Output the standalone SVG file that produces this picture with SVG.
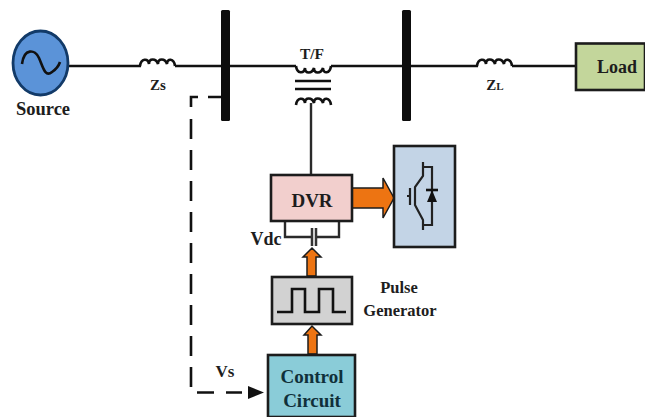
<svg xmlns="http://www.w3.org/2000/svg" width="645" height="417" viewBox="0 0 645 417">
<style>
.w{fill:none;stroke:#111;stroke-width:2.6}
.t{fill:none;stroke:#2a2a2a;stroke-width:2.4}
.b{stroke:#1c1c1c;stroke-width:2.6}
.o{fill:#ed7412;stroke:#1c1c1c;stroke-width:1.5}
text{font-family:"Liberation Serif",serif;font-weight:bold;fill:#1d1d1d;text-anchor:middle}
.c{fill:#10303a}
</style>
<defs>
<path id="coil" class="w" d="M0 0C1 -8 8 -8 9 -2C9 -8 16 -8 18 -2C18 -8 25 -8 27 -2C27 -8 34 -8 35 0"/>
</defs>
<g id="connectors">
<path class="w" d="M68 66H141M175 66H296M331 66H402M411 66H478M512 66H577"/>
<path class="t" d="M311 103V175"/>
<path class="w" d="M221 97H208M198 97H191V107M197 392.500H214M226 392.500H242"/>
<path fill="none" stroke="#111" stroke-width="2.6" stroke-dasharray="20 11" d="M191 119V388"/>
<path fill="#111" d="M248 386L264 392.500L248 399Z"/>
<path class="t" d="M285 221V237H312M317 237H339V221"/>
<path fill="none" stroke="#333" stroke-width="2.5" d="M312 228V246M316 228V246"/>
<path class="o" d="M352 188H383V178L394 198L383 218V208H352Z"/>
<path class="o" d="M307 276V257H303L312 248L321 257H316V276Z"/>
<path class="o" d="M308 354V335H304L312 326L321 335H317V354Z"/>
</g>
<g id="source">
<ellipse cx="40.500" cy="63" rx="27.500" ry="32" fill="#5b93d8" stroke="#123a68" stroke-width="2.800"/>
<path class="w" d="M22 64C24 48 35 49 39 58S45 78 52 72Q58 68 60 62"/>
<text x="43" y="115" font-size="18.500">Source</text>
</g>
<g id="zs">
<use href="#coil" x="140" y="66"/>
<text x="158" y="90" font-size="15">Zs</text>
</g>
<g id="bus1"><rect x="221" y="10" width="9" height="111" rx="1.500" fill="#0d0d0d"/></g>
<g id="tf">
<use href="#coil" x="296" y="66" transform="matrix(1 0 0 -1 0 132)"/>
<path class="w" d="M295 81H331M295 89H331"/>
<use href="#coil" x="296" y="105"/>
<text x="312" y="59" font-size="15.500">T/F</text>
</g>
<g id="bus2"><rect x="402" y="10" width="9" height="111" rx="1.500" fill="#0d0d0d"/></g>
<g id="zl">
<use href="#coil" x="477" y="66"/>
<text x="495" y="90" font-size="15">Z<tspan font-size="11">L</tspan></text>
</g>
<g id="load">
<rect x="576" y="43.500" width="69" height="46.500" fill="#c3d69b" class="b"/>
<text x="617" y="73" font-size="18">Load</text>
</g>
<g id="dvr">
<rect x="271" y="175" width="81" height="46" fill="#f2cfcd" class="b"/>
<text x="312" y="207" font-size="19">DVR</text>
<text x="266" y="245" font-size="18">Vdc</text>
</g>
<g id="igbt">
<rect x="394" y="146" width="61" height="101" fill="#c3d4e6" class="b"/>
<path fill="none" stroke="#222" stroke-width="2.200" d="M423 162V176L415 187V205L423 220V230M423 167H432V225H423M410 188V205M410 196H407"/>
<path fill="#111" d="M427 202H437L432 190Z"/>
<path class="w" d="M426 190H438"/>
</g>
<g id="pulse-generator">
<rect x="272" y="277" width="80" height="47" fill="#d2d2d2" class="b"/>
<path class="w" d="M277 312H292V289H305V312H319V289H333V312H346"/>
<text x="399" y="293" font-size="16.500">Pulse</text>
<text x="400" y="316" font-size="16.500">Generator</text>
</g>
<g id="control-circuit">
<rect x="268" y="355" width="87" height="62" fill="#8accd8" class="b"/>
<text class="c" x="312" y="383" font-size="19">Control</text>
<text class="c" x="312" y="407" font-size="19">Circuit</text>
</g>
<g id="vs"><text x="225" y="377" font-size="17">Vs</text></g>
</svg>
